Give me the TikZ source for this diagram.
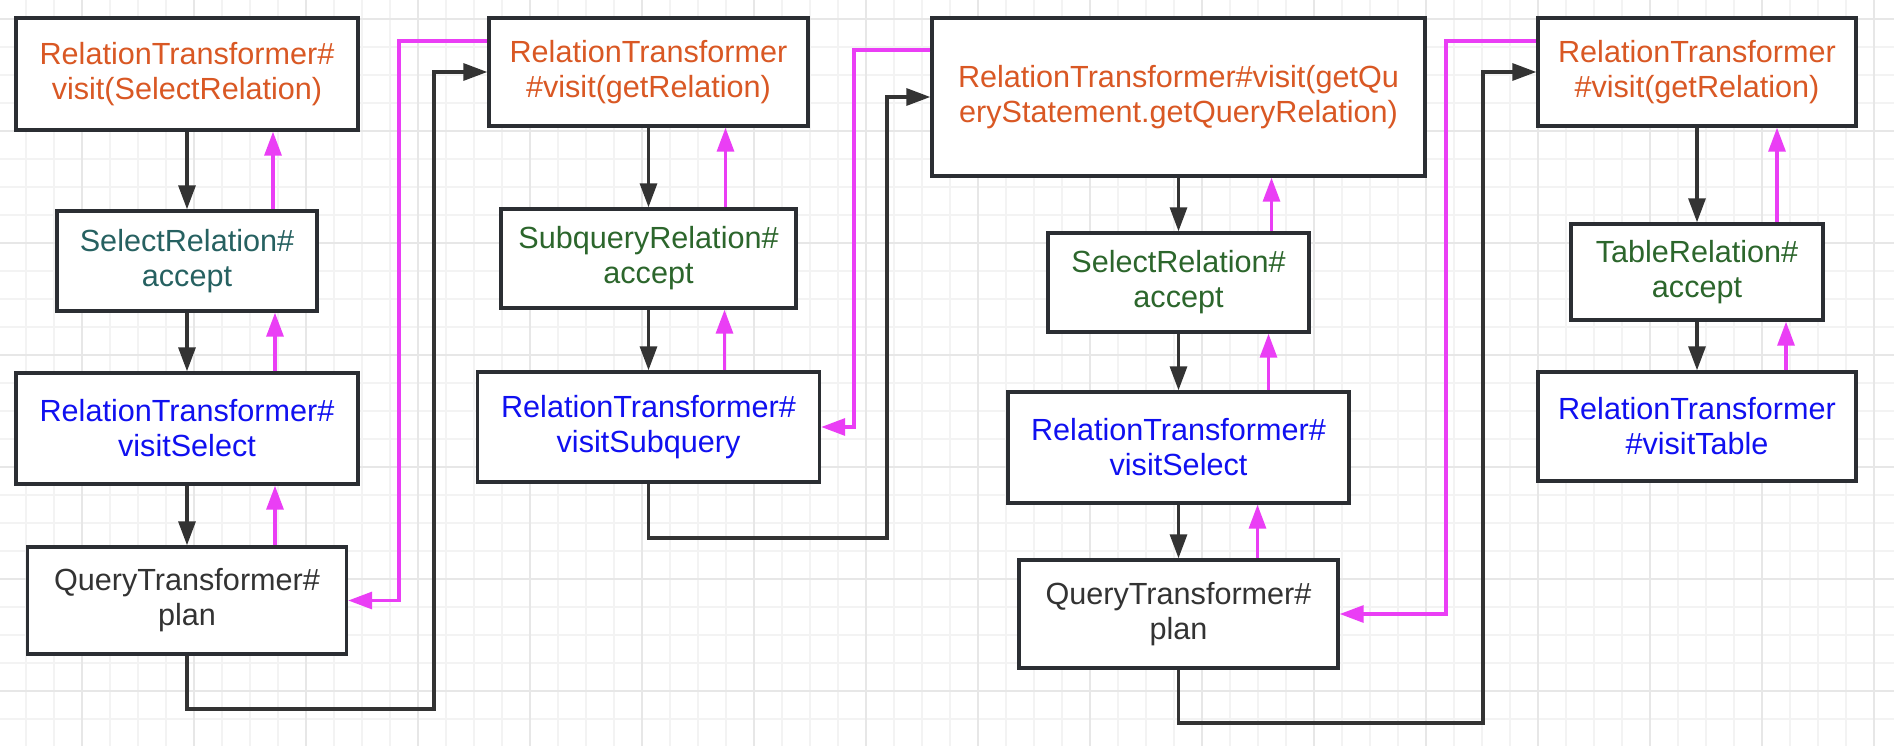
\documentclass[tikz,border=0pt]{standalone}
\usepackage{fontspec}
\setmainfont{Liberation Sans}
\usetikzlibrary{arrows.meta}
\definecolor{rtorange}{RGB}{217,88,36}
\definecolor{relteal}{RGB}{38,97,97}
\definecolor{relgreen}{RGB}{44,102,44}
\definecolor{visitblue}{RGB}{16,16,240}
\definecolor{plangray}{RGB}{51,51,51}
\definecolor{boxline}{RGB}{43,46,51}
\definecolor{callline}{RGB}{51,51,51}
\definecolor{retline}{RGB}{234,62,245}
\definecolor{gridminor}{RGB}{243,243,243}
\definecolor{gridmajor}{RGB}{231,231,231}
\tikzset{
  box/.style = {draw=boxline, line width=3.4pt, fill=white, align=center,
    inner sep=0pt, font=\fontsize{30.6}{35}\selectfont},
  call/.style = {draw=callline, line width=3.2pt, -{Triangle[length=24pt,width=17pt]}},
  ret/.style = {draw=retline, line width=3.2pt, -{Triangle[length=24pt,width=17pt]}},
}
\begin{document}
\begin{tikzpicture}[x=1pt, y=-1pt]
        \useasboundingbox (0, 0) rectangle (1894, 746);
        \fill[white] (0, 0) rectangle (1894, 746);
        %grid
        \foreach \gx in {26,54,...,1894} \draw[gridminor, line width=1.2pt] (\gx, 0) -- (\gx, 746);
        \foreach \gy in {19,47,...,746} \draw[gridminor, line width=1.2pt] (0, \gy) -- (1894, \gy);
        \foreach \gx in {82,194,...,1894} \draw[gridmajor, line width=2pt] (\gx, 0) -- (\gx, 746);
        \foreach \gy in {19,131,...,746} \draw[gridmajor, line width=2pt] (0, \gy) -- (1894, \gy);
        %nodes
        \node[box, text=rtorange, minimum width=342pt, minimum height=112pt] (b1) at (187, 74) {RelationTransformer\#\\visit(SelectRelation)};
        \node[box, text=relteal, minimum width=260pt, minimum height=100pt] (b2) at (187, 261) {SelectRelation\#\\accept};
        \node[box, text=visitblue, minimum width=342pt, minimum height=111pt] (b3) at (187, 428.5) {RelationTransformer\#\\visitSelect};
        \node[box, text=plangray, minimum width=319pt, minimum height=107pt] (b4) at (187, 600.5) {QueryTransformer\#\\plan};
        \node[box, text=rtorange, minimum width=319pt, minimum height=108pt] (b5) at (648.5, 72) {RelationTransformer\\\#visit(getRelation)};
        \node[box, text=relgreen, minimum width=295pt, minimum height=99pt] (b6) at (648.5, 258.5) {SubqueryRelation\#\\accept};
        \node[box, text=visitblue, minimum width=342pt, minimum height=110pt] (b7) at (648.5, 427) {RelationTransformer\#\\visitSubquery};
        \node[box, text=rtorange, minimum width=493pt, minimum height=158pt] (b8) at (1178.5, 97) {RelationTransformer\#visit(getQu\\eryStatement.getQueryRelation)};
        \node[box, text=relgreen, minimum width=261pt, minimum height=99pt] (b9) at (1178.5, 282.5) {SelectRelation\#\\accept};
        \node[box, text=visitblue, minimum width=341pt, minimum height=111pt] (b10) at (1178.5, 447.5) {RelationTransformer\#\\visitSelect};
        \node[box, text=plangray, minimum width=319pt, minimum height=108pt] (b11) at (1178.5, 614) {QueryTransformer\#\\plan};
        \node[box, text=rtorange, minimum width=318pt, minimum height=108pt] (b12) at (1697, 72) {RelationTransformer\\\#visit(getRelation)};
        \node[box, text=relgreen, minimum width=252pt, minimum height=96pt] (b13) at (1697, 272) {TableRelation\#\\accept};
        \node[box, text=visitblue, minimum width=318pt, minimum height=109pt] (b14) at (1697, 426.5) {RelationTransformer\\\#visitTable};
        %bends
        \coordinate (j1) at (434, 709);
        \coordinate (k1) at (399, 600.5);
        \coordinate (j2) at (887, 538);
        \coordinate (k2) at (854, 427);
        \coordinate (j3) at (1483, 723);
        \coordinate (k3) at (1446, 614);
        %edges down
        \path [call] (b1) to (b2);
        \path [call] (b2) to (b3);
        \path [call] (b3) to (b4);
        \path [call] (b5) to (b6);
        \path [call] (b6) to (b7);
        \path [call] (b8) to (b9);
        \path [call] (b9) to (b10);
        \path [call] (b10) to (b11);
        \path [call] (b12) to (b13);
        \path [call] (b13) to (b14);
        %edges up
        \path [ret] ([xshift=86pt]b2.north) to ([xshift=86pt]b1.south);
        \path [ret] ([xshift=88pt]b3.north) to ([xshift=88pt]b2.south);
        \path [ret] ([xshift=88pt]b4.north) to ([xshift=88pt]b3.south);
        \path [ret] ([xshift=77pt]b6.north) to ([xshift=77pt]b5.south);
        \path [ret] ([xshift=76pt]b7.north) to ([xshift=76pt]b6.south);
        \path [ret] ([xshift=93pt]b9.north) to ([xshift=93pt]b8.south);
        \path [ret] ([xshift=90pt]b10.north) to ([xshift=90pt]b9.south);
        \path [ret] ([xshift=79pt]b11.north) to ([xshift=79pt]b10.south);
        \path [ret] ([xshift=80pt]b13.north) to ([xshift=80pt]b12.south);
        \path [ret] ([xshift=89pt]b14.north) to ([xshift=89pt]b13.south);
        %edges between columns
        \path [call] (b4.south) |- (j1) |- (b5.west);
        \path [ret] ([yshift=31pt]b5.west) -| (k1) -- (b4.east);
        \path [call] (b7.south) |- (j2) |- (b8.west);
        \path [ret] ([yshift=47pt]b8.west) -| (k2) -- (b7.east);
        \path [call] (b11.south) |- (j3) |- (b12.west);
        \path [ret] ([yshift=31pt]b12.west) -| (k3) -- (b11.east);
      \end{tikzpicture}
\end{document}
